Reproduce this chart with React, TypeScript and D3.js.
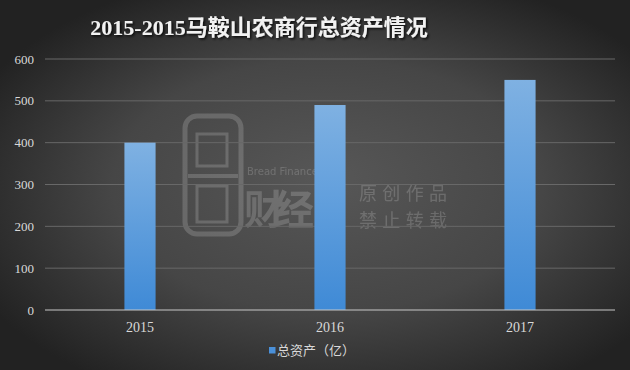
import React from "react";
import * as d3 from "d3";

const title = "2015-2015马鞍山农商行总资产情况";
const categories = ["2015", "2016", "2017"];
const values = [400, 490, 550];
const yTicks = [0, 100, 200, 300, 400, 500, 600];
const seriesName = "总资产（亿）";

const W = 630;
const H = 370;
const left = 45;
const right = 615;
const top = 59;
const bottom = 310;

const serif = "'Liberation Serif', 'DejaVu Serif', 'Noto Sans CJK SC', serif";
const cjk = "'Noto Sans CJK SC', sans-serif";

export default function App() {
  const x = d3
    .scaleBand<string>()
    .domain(categories)
    .range([left, right])
    .paddingInner(0.836)
    .paddingOuter(0.418);
  const y = d3.scaleLinear().domain([0, 600]).range([bottom, top]);

  return (
    <svg
      width={W}
      height={H}
      style={{ position: "absolute", left: 0, top: 0, display: "block" }}
    >
      <defs>
        <radialGradient id="bg" cx="52%" cy="52%" r="62%" fx="52%" fy="48%">
          <stop offset="0%" stopColor="#575757" />
          <stop offset="55%" stopColor="#464646" />
          <stop offset="100%" stopColor="#222222" />
        </radialGradient>
        <linearGradient id="bar" x1="0" y1="0" x2="0" y2="1">
          <stop offset="0%" stopColor="#7fb1e2" />
          <stop offset="100%" stopColor="#3f8ad6" />
        </linearGradient>
        <filter id="shadow" x="-10%" y="-30%" width="120%" height="160%">
          <feDropShadow dx="1.5" dy="1.5" stdDeviation="1" floodColor="#000" floodOpacity="0.8" />
        </filter>
      </defs>
      <rect x={0} y={0} width={W} height={H} fill="url(#bg)" />

      {/* watermark */}
      <g opacity={0.17} fill="none" stroke="#ffffff">
        <rect x={185} y={116} width={56} height={118} rx={12} strokeWidth={5} />
        <line x1={188} y1={176} x2={238} y2={176} strokeWidth={4} />
        <rect x={197} y={134} width={30} height={32} strokeWidth={3} />
        <rect x={197} y={186} width={30} height={36} strokeWidth={3} />
      </g>
      <g opacity={0.17} fill="#ffffff">
        <text x={247} y={175} fontSize={10} fontFamily="'DejaVu Sans', sans-serif">
          Bread Finance
        </text>
        <text x={244} y={224} fontSize={40} fontFamily={cjk} fontWeight={700} textLength={70}>
          财经
        </text>
        <text x={359} y={200} fontSize={18} fontFamily={cjk} textLength={88}>
          原创作品
        </text>
        <text x={359} y={227} fontSize={18} fontFamily={cjk} textLength={88}>
          禁止转载
        </text>
      </g>

      {/* grid */}
      {yTicks
        .filter((t) => t > 0)
        .map((t) => (
          <line
            key={t}
            x1={left}
            x2={right}
            y1={y(t)}
            y2={y(t)}
            stroke="#686868"
            strokeWidth={1}
          />
        ))}

      {/* bars */}
      {categories.map((c, i) => (
        <rect
          key={c}
          x={x(c)}
          y={y(values[i])}
          width={x.bandwidth()}
          height={bottom - y(values[i])}
          fill="url(#bar)"
        />
      ))}

      {/* axis */}
      <line x1={left} x2={right} y1={bottom} y2={bottom} stroke="#c8c8c8" strokeWidth={1.2} />

      {yTicks.map((t) => (
        <text
          key={t}
          x={34}
          y={y(t) + 4.5}
          textAnchor="end"
          fontSize={13}
          fontFamily={serif}
          fill="#d9d9d9"
        >
          {t}
        </text>
      ))}

      {categories.map((c) => (
        <text
          key={c}
          x={(x(c) as number) + x.bandwidth() / 2}
          y={332}
          textAnchor="middle"
          fontSize={14}
          fontFamily={serif}
          fill="#d9d9d9"
        >
          {c}
        </text>
      ))}

      {/* legend */}
      <rect x={269} y={347} width={6.5} height={6.5} fill="#4a90d9" />
      <text x={277} y={355} fontSize={13} fontFamily={cjk} fill="#d9d9d9">
        {seriesName}
      </text>

      {/* title */}
      <text
        x={259}
        y={35}
        textAnchor="middle"
        fontSize={22}
        fontWeight={700}
        fontFamily={serif}
        fill="#f2f2f2"
        filter="url(#shadow)"
      >
        {title}
      </text>
    </svg>
  );
}
